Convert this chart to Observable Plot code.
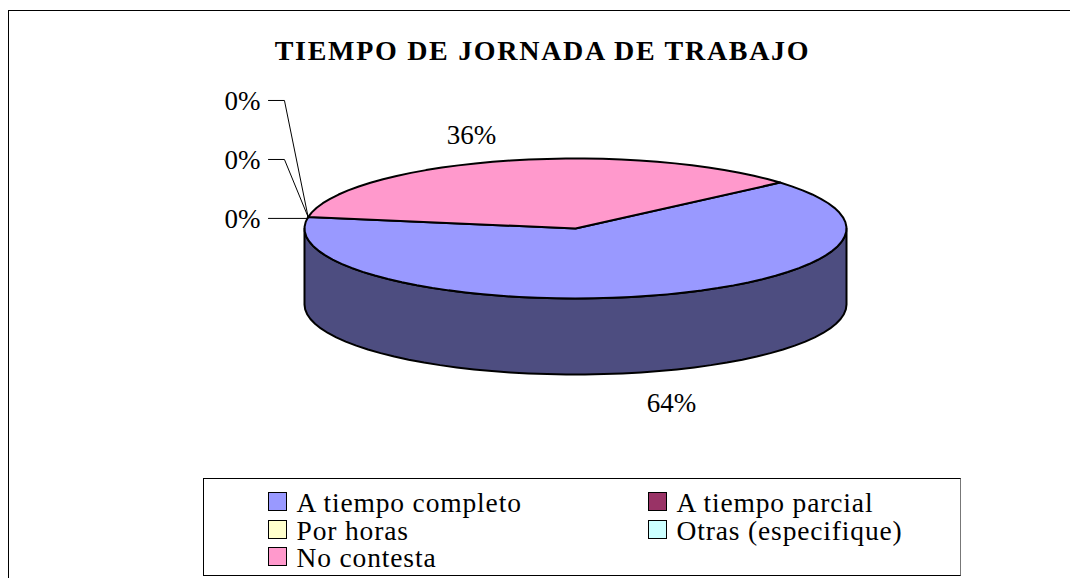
<!DOCTYPE html>
<html lang="es">
<head>
<meta charset="utf-8">
<title>Tiempo de jornada de trabajo</title>
<script src="https://cdn.jsdelivr.net/npm/d3@7"></script>
<script src="https://cdn.jsdelivr.net/npm/@observablehq/plot@0.6"></script>
<style>
  html, body { margin: 0; padding: 0; background: #fff; }
  body { width: 1070px; height: 578px; overflow: hidden; font-family: "Liberation Serif", serif; color: #000; }
  #chart { position: relative; width: 1070px; height: 578px; box-sizing: border-box; }
  #frame { position: absolute; left: 8px; top: 10px; right: 0; bottom: 0; border-left: 1px solid #000; border-top: 1px solid #000; }
  #title { position: absolute; left: 0; top: 36px; width: 1085px; text-align: center; font-weight: bold; font-size: 28px; line-height: 30px; letter-spacing: 1.7px; white-space: nowrap; }
  #plot { position: absolute; left: 0; top: 78px; }
  #legend { position: absolute; left: 203px; top: 478px; width: 758px; height: 98px; box-sizing: border-box; background: #fff; border: 1px solid #000; border-right-color: #777; font-size: 27.5px; }
  .item { position: absolute; white-space: nowrap; line-height: 27px; letter-spacing: 0.85px; }
  .sw { display: inline-block; width: 17px; height: 17px; border: 1.5px solid #000; margin-right: 9.5px; vertical-align: 1px; }
</style>
</head>
<body>
<div id="chart">
  <div id="frame"></div>
  <div id="title"></div>
  <div id="plot"></div>
  <div id="legend"></div>
</div>
<script>
const titleText = "TIEMPO DE JORNADA DE TRABAJO";
const categories = ["A tiempo completo", "A tiempo parcial", "Por horas", "Otras (especifique)", "No contesta"];
const values = [64, 0, 0, 0, 36];
const colors = ["#9999FF", "#993366", "#FFFFCC", "#CCFFFF", "#FF99CC"];
const sideColor = "#4D4D80";

// Layout of the labels, in units of the pie's radii (not data).
const labelAnchors = [
  {x: 0.354, y: -2.5},
  {x: -1.229, y: 1.814},
  {x: -1.229, y: 0.971},
  {x: -1.229, y: 0.129},
  {x: -0.384, y: 1.329}
];
const leaderStartX = -1.133, leaderElbowX = -1.074;
const startDeg = 49, depth = 76 / 70, stepDeg = 4;

const rad = d => d * Math.PI / 180;
const arcs = d3.pie().sort(null).startAngle(rad(startDeg)).endAngle(rad(startDeg + 360))(values);
const onEdge = (a, drop = 0) => ({x: Math.sin(a), y: Math.cos(a) - drop});
function sampleArc(a0, a1, drop = 0) {
  const n = Math.max(1, Math.ceil(Math.abs(a1 - a0) / rad(stepDeg)));
  return d3.range(n + 1).map(i => onEdge(a0 + (a1 - a0) * i / n, drop));
}

const side = [...sampleArc(rad(90), rad(270)), ...sampleArc(rad(270), rad(90), depth)];
const wedges = arcs.filter(a => a.value > 0).map(a => ({
  fill: colors[a.index],
  points: [{x: 0, y: 0}, ...sampleArc(a.startAngle, a.endAngle)]
}));

const labels = arcs.map((a, i) => ({text: `${Math.round(a.value / d3.sum(values) * 100)}%`, ...labelAnchors[i]}));

const leaders = arcs.filter(a => a.value === 0).map((a, i) => {
  const tip = onEdge(a.startAngle);
  const anchor = labelAnchors[a.index];
  const yLine = anchor.y + 0.015;
  const isStraight = Math.abs(anchor.y - 0.129) < 1e-6;
  return isStraight
    ? [{x: leaderStartX, y: yLine}, {x: tip.x, y: yLine}]
    : [{x: leaderStartX, y: yLine}, {x: leaderElbowX, y: yLine}, tip];
});

const plot = Plot.plot({
  width: 1070,
  height: 400,
  margin: 0,
  style: {background: "transparent", fontFamily: "Liberation Serif, serif"},
  x: {domain: [-1, 1], range: [304, 846], axis: null},
  y: {domain: [-1, 1], range: [220, 80], axis: null},
  marks: [
    Plot.line(side, {x: "x", y: "y", fill: sideColor, stroke: "#000", strokeWidth: 2, curve: "linear-closed"}),
    ...wedges.map(w => Plot.line(w.points, {x: "x", y: "y", fill: w.fill, stroke: "#000", strokeWidth: 2, curve: "linear-closed"})),
    ...leaders.map(l => Plot.line(l, {x: "x", y: "y", stroke: "#000", strokeWidth: 1})),
    Plot.text(labels, {x: "x", y: "y", text: "text", fontSize: 27, fill: "#000"})
  ]
});
document.getElementById("plot").append(plot);

document.getElementById("title").textContent = titleText;

// Legend: two columns filled row by row.
const legend = document.getElementById("legend");
const colLeft = [64, 444], rowTop = [10, 37.5, 64.5];
categories.forEach((c, i) => {
  const item = document.createElement("div");
  item.className = "item";
  item.style.left = colLeft[i % 2] + "px";
  item.style.top = rowTop[Math.floor(i / 2)] + "px";
  const sw = document.createElement("span");
  sw.className = "sw";
  sw.style.background = colors[i];
  item.append(sw, c);
  legend.append(item);
});
</script>
</body>
</html>
